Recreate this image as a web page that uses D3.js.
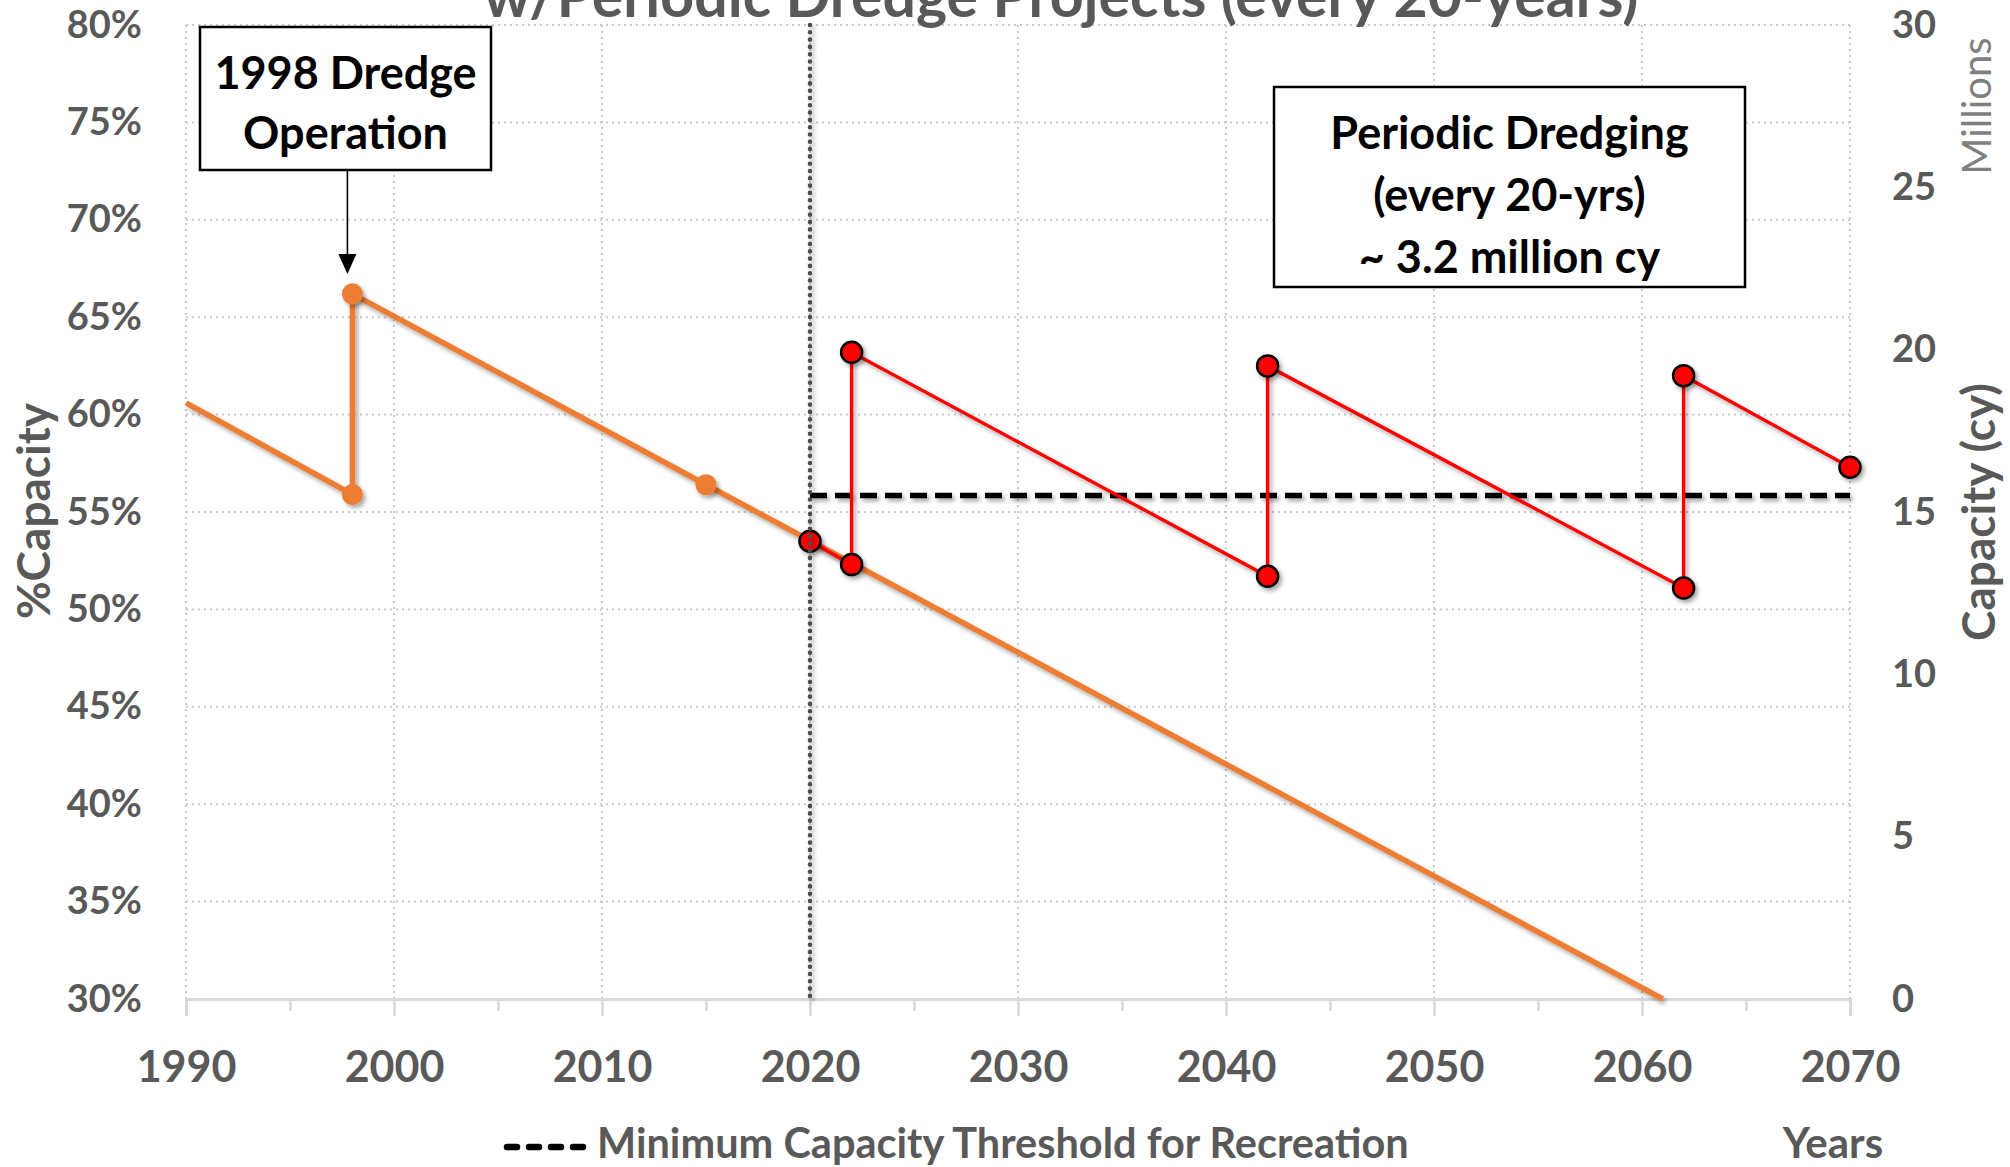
<!DOCTYPE html>
<html>
<head>
<meta charset="utf-8">
<script src="https://cdn.jsdelivr.net/npm/d3@7"></script>
<style>
  body { margin: 0; background: #fff; }
  svg { display: block; font-family: Lato, "Open Sans", sans-serif; }
</style>
</head>
<body>
<div id="d3-container"></div>
<script>
/* DATA */
// no-dredge projection (orange)
const orangeYears = [1990, 1998, 1998, 2015, 2061];
const orangePct = [60.6, 55.9, 66.2, 56.4, 30.0];
const orangeMarked = [false, true, true, true, false];

// periodic dredge every 20 years (red)
const redYears = [2020, 2022, 2022, 2042, 2042, 2062, 2062, 2070];
const redPct = [53.5, 52.3, 63.2, 51.7, 62.5, 51.1, 62.0, 57.3];

// minimum capacity threshold for recreation
const thresholdYears = [2020, 2070];
const thresholdPct = [55.85, 55.85];

const nowYear = 2020;

// ticks
const xTicks = [1990, 2000, 2010, 2020, 2030, 2040, 2050, 2060, 2070];
const xMinorTicks = [1995, 2005, 2015, 2025, 2035, 2045, 2055, 2065];
const yLeftTicks = [30, 35, 40, 45, 50, 55, 60, 65, 70, 75, 80];
const yRightTicks = [0, 5, 10, 15, 20, 25, 30];

/* CONSTANTS */
const width = 2010,
  height = 1167,
  margin = { top: 25, bottom: 168, left: 186, right: 160 };
const gray = "#595959";

const svg = d3.select("#d3-container")
  .append("svg")
  .attr("width", width)
  .attr("height", height);

// drop shadow like the excel effect (user space so flat lines still show)
const defs = svg.append("defs");
defs.append("filter")
  .attr("id", "shadow")
  .attr("filterUnits", "userSpaceOnUse")
  .attr("x", 0).attr("y", 0)
  .attr("width", width).attr("height", height)
  .append("feDropShadow")
  .attr("dx", 2.5).attr("dy", 3)
  .attr("stdDeviation", 2)
  .attr("flood-color", "#000")
  .attr("flood-opacity", 0.35);

/* SCALES */
const xScale = d3.scaleLinear()
  .domain([1990, 2070])
  .range([margin.left, width - margin.right]);

const yScale = d3.scaleLinear()
  .domain([30, 80])
  .range([height - margin.bottom, margin.top]);

const yRight = d3.scaleLinear()
  .domain([0, 30])
  .range([height - margin.bottom, margin.top]);

const x0 = xScale.range()[0], x1 = xScale.range()[1];
const yBottom = yScale.range()[0], yTop = yScale.range()[1];

/* GRIDLINES */
svg.append("g")
  .selectAll("line")
  .data(yLeftTicks.filter(d => d > 30))
  .join("line")
  .attr("x1", x0).attr("x2", x1)
  .attr("y1", d => yScale(d)).attr("y2", d => yScale(d))
  .attr("stroke", "#c9c9c9")
  .attr("stroke-width", 2)
  .attr("stroke-dasharray", "2 4");

svg.append("g")
  .selectAll("line")
  .data(xTicks)
  .join("line")
  .attr("x1", d => xScale(d)).attr("x2", d => xScale(d))
  .attr("y1", yTop).attr("y2", yBottom)
  .attr("stroke", "#c9c9c9")
  .attr("stroke-width", 2)
  .attr("stroke-dasharray", "2 4");

/* AXES */
const xAxis = d3.axisBottom(xScale)
  .tickValues(xTicks)
  .tickSize(17)
  .tickPadding(35)
  .tickFormat(d3.format("d"));

const xMinor = d3.axisBottom(xScale)
  .tickValues(xMinorTicks)
  .tickSize(12)
  .tickFormat("");

const gx = svg.append("g")
  .attr("transform", `translate(0, ${yBottom})`)
  .call(xAxis);
const gxm = svg.append("g")
  .attr("transform", `translate(0, ${yBottom})`)
  .call(xMinor);

[gx, gxm].forEach(g => {
  g.select(".domain").attr("stroke", "#d9d9d9").attr("stroke-width", 3);
  g.selectAll(".tick line").attr("stroke", "#d9d9d9").attr("stroke-width", 2.5);
});
gx.selectAll("text")
  .attr("fill", gray)
  .attr("font-size", 43)
  .attr("font-weight", "bold")
  .attr("font-family", "Lato");

const yAxisLeft = d3.axisLeft(yScale)
  .tickValues(yLeftTicks)
  .tickSize(0)
  .tickPadding(44)
  .tickFormat(d => d + "%");

const gyl = svg.append("g")
  .attr("transform", `translate(${x0}, 0)`)
  .call(yAxisLeft);
gyl.select(".domain").remove();
gyl.selectAll("text")
  .attr("fill", gray)
  .attr("font-size", 38)
  .attr("font-weight", "bold")
  .attr("font-family", "Lato");

const yAxisRight = d3.axisRight(yRight)
  .tickValues(yRightTicks)
  .tickSize(0)
  .tickPadding(42);

const gyr = svg.append("g")
  .attr("transform", `translate(${x1}, 0)`)
  .call(yAxisRight);
gyr.select(".domain").remove();
gyr.selectAll("text")
  .attr("fill", gray)
  .attr("font-size", 38)
  .attr("font-weight", "bold")
  .attr("font-family", "Lato");

/* LINES */
const line = d3.line()
  .x(d => xScale(d.year))
  .y(d => yScale(d.pct));

const orangeData = orangeYears.map((y, i) => ({ year: y, pct: orangePct[i], marked: orangeMarked[i] }));
const redData = redYears.map((y, i) => ({ year: y, pct: redPct[i] }));
const thresholdData = thresholdYears.map((y, i) => ({ year: y, pct: thresholdPct[i] }));

svg.append("path")
  .datum(orangeData)
  .attr("d", line)
  .attr("fill", "none")
  .attr("stroke", "#ED7D31")
  .attr("stroke-width", 5.5)
  .attr("stroke-linejoin", "round")
  .attr("filter", "url(#shadow)");

svg.selectAll(".orange-dot")
  .data(orangeData.filter(d => d.marked))
  .join("circle")
  .attr("class", "orange-dot")
  .attr("cx", d => xScale(d.year))
  .attr("cy", d => yScale(d.pct))
  .attr("r", 10.5)
  .attr("fill", "#ED7D31")
  .attr("filter", "url(#shadow)");

svg.append("path")
  .datum(thresholdData)
  .attr("d", line)
  .attr("fill", "none")
  .attr("stroke", "#000")
  .attr("stroke-width", 5.5)
  .attr("stroke-dasharray", "17 8")
  .attr("filter", "url(#shadow)");

svg.append("path")
  .datum(redData)
  .attr("d", line)
  .attr("fill", "none")
  .attr("stroke", "#FF0000")
  .attr("stroke-width", 3.4)
  .attr("filter", "url(#shadow)");

svg.selectAll(".red-dot")
  .data(redData)
  .join("circle")
  .attr("class", "red-dot")
  .attr("cx", d => xScale(d.year))
  .attr("cy", d => yScale(d.pct))
  .attr("r", 10.5)
  .attr("fill", "#FF0000")
  .attr("stroke", "#000")
  .attr("stroke-width", 2.5)
  .attr("filter", "url(#shadow)");

// present-day marker line
svg.append("line")
  .attr("x1", xScale(nowYear)).attr("x2", xScale(nowYear))
  .attr("y1", yTop).attr("y2", yBottom)
  .attr("stroke", "#4d4d4d")
  .attr("stroke-width", 4.6)
  .attr("stroke-linecap", "round")
  .attr("stroke-dasharray", "0 7.3")
  .attr("filter", "url(#shadow)");

/* ANNOTATIONS */
function box(x, y, w, h, lines, lineY) {
  const g = svg.append("g");
  g.append("rect")
    .attr("x", x).attr("y", y)
    .attr("width", w).attr("height", h)
    .attr("fill", "#fff")
    .attr("stroke", "#000")
    .attr("stroke-width", 2.5);
  g.selectAll("text")
    .data(lines)
    .join("text")
    .attr("x", x + w / 2)
    .attr("y", (d, i) => lineY[i])
    .attr("text-anchor", "middle")
    .attr("font-size", 45)
    .attr("font-weight", "bold")
    .attr("fill", "#000")
    .text(d => d);
}

box(200, 27, 291, 143, ["1998 Dredge", "Operation"], [89, 149]);
box(1274, 87, 471, 200, ["Periodic Dredging", "(every 20-yrs)", "~ 3.2 million cy"], [149, 211, 273]);

// arrow to the 1998 dredge point
const arrowX = xScale(1998) - 5;
svg.append("line")
  .attr("x1", arrowX).attr("x2", arrowX)
  .attr("y1", 170).attr("y2", 256)
  .attr("stroke", "#000")
  .attr("stroke-width", 1.6);
svg.append("path")
  .attr("d", `M${arrowX - 9},254 L${arrowX + 9},254 L${arrowX},274 Z`)
  .attr("fill", "#000");

/* TITLES */
svg.append("text")
  .attr("x", 1061).attr("y", 17)
  .attr("text-anchor", "middle")
  .attr("font-size", 59)
  .attr("font-weight", "bold")
  .attr("fill", gray)
  .text("w/Periodic Dredge Projects (every 20-years)");

svg.append("text")
  .attr("transform", "translate(50, 511) rotate(-90)")
  .attr("text-anchor", "middle")
  .attr("font-size", 46)
  .attr("font-weight", "bold")
  .attr("fill", gray)
  .text("%Capacity");

svg.append("text")
  .attr("transform", "translate(1995, 512) rotate(-90)")
  .attr("text-anchor", "middle")
  .attr("font-size", 46)
  .attr("font-weight", "bold")
  .attr("fill", gray)
  .text("Capacity (cy)");

svg.append("text")
  .attr("transform", "translate(1991, 106) rotate(-90)")
  .attr("text-anchor", "middle")
  .attr("font-size", 40)
  .attr("fill", "#7f7f7f")
  .text("Millions");

svg.append("text")
  .attr("x", 1833).attr("y", 1158)
  .attr("text-anchor", "middle")
  .attr("font-size", 42)
  .attr("font-weight", "bold")
  .attr("fill", gray)
  .text("Years");

/* LEGEND */
svg.append("line")
  .attr("x1", 507).attr("x2", 586)
  .attr("y1", 1147).attr("y2", 1147)
  .attr("stroke", "#000")
  .attr("stroke-width", 6.5)
  .attr("stroke-linecap", "round")
  .attr("stroke-dasharray", "10 12");

svg.append("text")
  .attr("x", 597).attr("y", 1158)
  .attr("font-size", 41.5)
  .attr("font-weight", "bold")
  .attr("fill", gray)
  .text("Minimum Capacity Threshold for Recreation");
</script>
</body>
</html>
